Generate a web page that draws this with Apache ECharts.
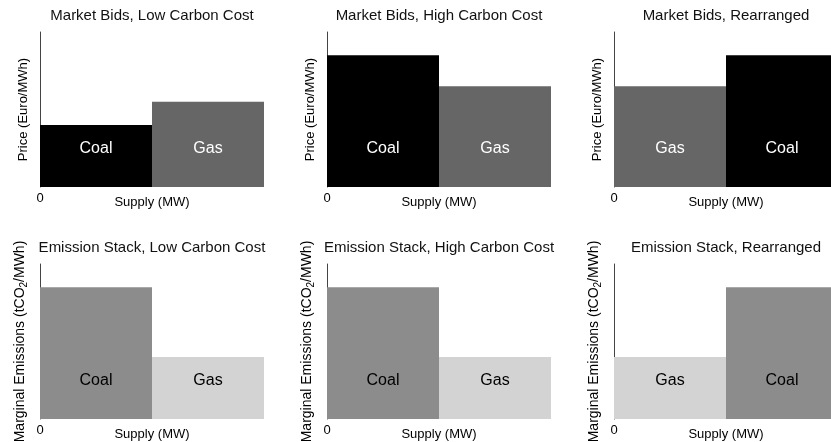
<!DOCTYPE html>
<html>
<head>
<meta charset="utf-8">
<script src="https://cdn.jsdelivr.net/npm/echarts@6/dist/echarts.min.js"></script>
<style>
html,body{margin:0;padding:0;background:#fff;}
#chart{width:831px;height:442px;}
</style>
</head>
<body>
<div id="chart"></div>
<script>
// ---- data ----
const panelTitles = [
  'Market Bids, Low Carbon Cost',
  'Market Bids, High Carbon Cost',
  'Market Bids, Rearranged',
  'Emission Stack, Low Carbon Cost',
  'Emission Stack, High Carbon Cost',
  'Emission Stack, Rearranged'
];
const fuels = ['Coal', 'Gas'];
const capacityMW = [1, 1];              // Coal, Gas (relative supply)
const bidsLowCarbon = [40, 55];         // Coal, Gas price
const bidsHighCarbon = [85, 65];        // Coal, Gas price
const emissionRates = [85, 40];         // Coal, Gas marginal emissions
const meritOrderNormal = ['Coal', 'Gas'];
const meritOrderRearranged = ['Gas', 'Coal'];
const xTickLabels = ['0'];
const xName = 'Supply (MW)';
const yNamePrice = 'Price (Euro/MWh)';

// ---- styles ----
const FONT = 'Liberation Sans, Arial, Helvetica, sans-serif';
const topColors = {Coal: '#000000', Gas: '#666666'};
const botColors = {Coal: '#8c8c8c', Gas: '#d3d3d3'};
const lefts = [40, 327, 614];
const tops = [32, 264];
const W = 224, H = 155;

const panels = [
  {values: bidsLowCarbon, order: meritOrderNormal, row: 0},
  {values: bidsHighCarbon, order: meritOrderNormal, row: 0},
  {values: bidsHighCarbon, order: meritOrderRearranged, row: 0},
  {values: emissionRates, order: meritOrderNormal, row: 1},
  {values: emissionRates, order: meritOrderNormal, row: 1},
  {values: emissionRates, order: meritOrderRearranged, row: 1}
];

const grid = [], xAxis = [], yAxis = [], series = [], title = [];
panels.forEach((p, i) => {
  const col = i % 3;
  const left = lefts[col], top = tops[p.row];
  grid.push({left: left, top: top, width: W, height: H, containLabel: false, outerBoundsMode: 'none'});
  title.push({
    text: panelTitles[i], left: left + W / 2 - 5, top: top - 29, textAlign: 'center',
    textStyle: {fontFamily: FONT, fontSize: 15, fontWeight: 'normal', color: '#111'}
  });
  xAxis.push({
    gridIndex: i, type: 'value', min: 0, max: 2, interval: 2,
    name: xName, nameLocation: 'middle', nameGap: 9, nameMoveOverlap: false,
    nameTextStyle: {fontFamily: FONT, fontSize: 13, color: '#000'},
    axisLine: {show: false}, axisTick: {show: false}, splitLine: {show: false},
    axisLabel: {
      margin: 5, fontFamily: FONT, fontSize: 13, color: '#000',
      formatter: v => (v === 0 ? xTickLabels[0] : '')
    }
  });
  const yn = p.row === 0
    ? {name: yNamePrice, nameGap: 10, nameTextStyle: {fontFamily: FONT, fontSize: 13, color: '#000'}}
    : {
        name: '{a|Marginal Emissions (tCO}{sub|2}{a|/MWh)}', nameGap: 11,
        nameTextStyle: {
          fontFamily: FONT, fontSize: 14, color: '#000',
          rich: {
            a: {fontFamily: FONT, fontSize: 14, color: '#000', lineHeight: 17},
            sub: {fontFamily: FONT, fontSize: 10, color: '#000', lineHeight: 10, verticalAlign: 'bottom'}
          }
        }
      };
  yAxis.push(Object.assign({
    gridIndex: i, type: 'value', min: 0, max: 100, nameLocation: 'middle', nameMoveOverlap: false,
    axisLine: {show: true, lineStyle: {color: '#444', width: 1}},
    axisTick: {show: false}, axisLabel: {show: false}, splitLine: {show: false}
  }, yn));

  let x = 0;
  const data = p.order.map(f => {
    const k = fuels.indexOf(f);
    const d = [x, x + capacityMW[k], p.values[k], f];
    x += capacityMW[k];
    return d;
  });
  const colors = p.row === 0 ? topColors : botColors;
  const textColor = p.row === 0 ? '#ffffff' : '#000000';
  series.push({
    type: 'custom', xAxisIndex: i, yAxisIndex: i, data: data, clip: false,
    renderItem: (params, api) => {
      const a = api.coord([api.value(0), 0]);
      const b = api.coord([api.value(1), api.value(2)]);
      const name = data[params.dataIndex][3];
      return {
        type: 'rect',
        shape: {x: a[0], y: b[1], width: b[0] - a[0], height: a[1] - b[1]},
        style: {fill: colors[name]},
        textContent: {style: {text: name, fill: textColor, fontSize: 16, fontFamily: FONT}},
        textConfig: {position: 'insideBottom', distance: 30}
      };
    }
  });
});

const chart = echarts.init(document.getElementById('chart'));
chart.setOption({animation: false, backgroundColor: '#fff', title, grid, xAxis, yAxis, series});
</script>
</body>
</html>
